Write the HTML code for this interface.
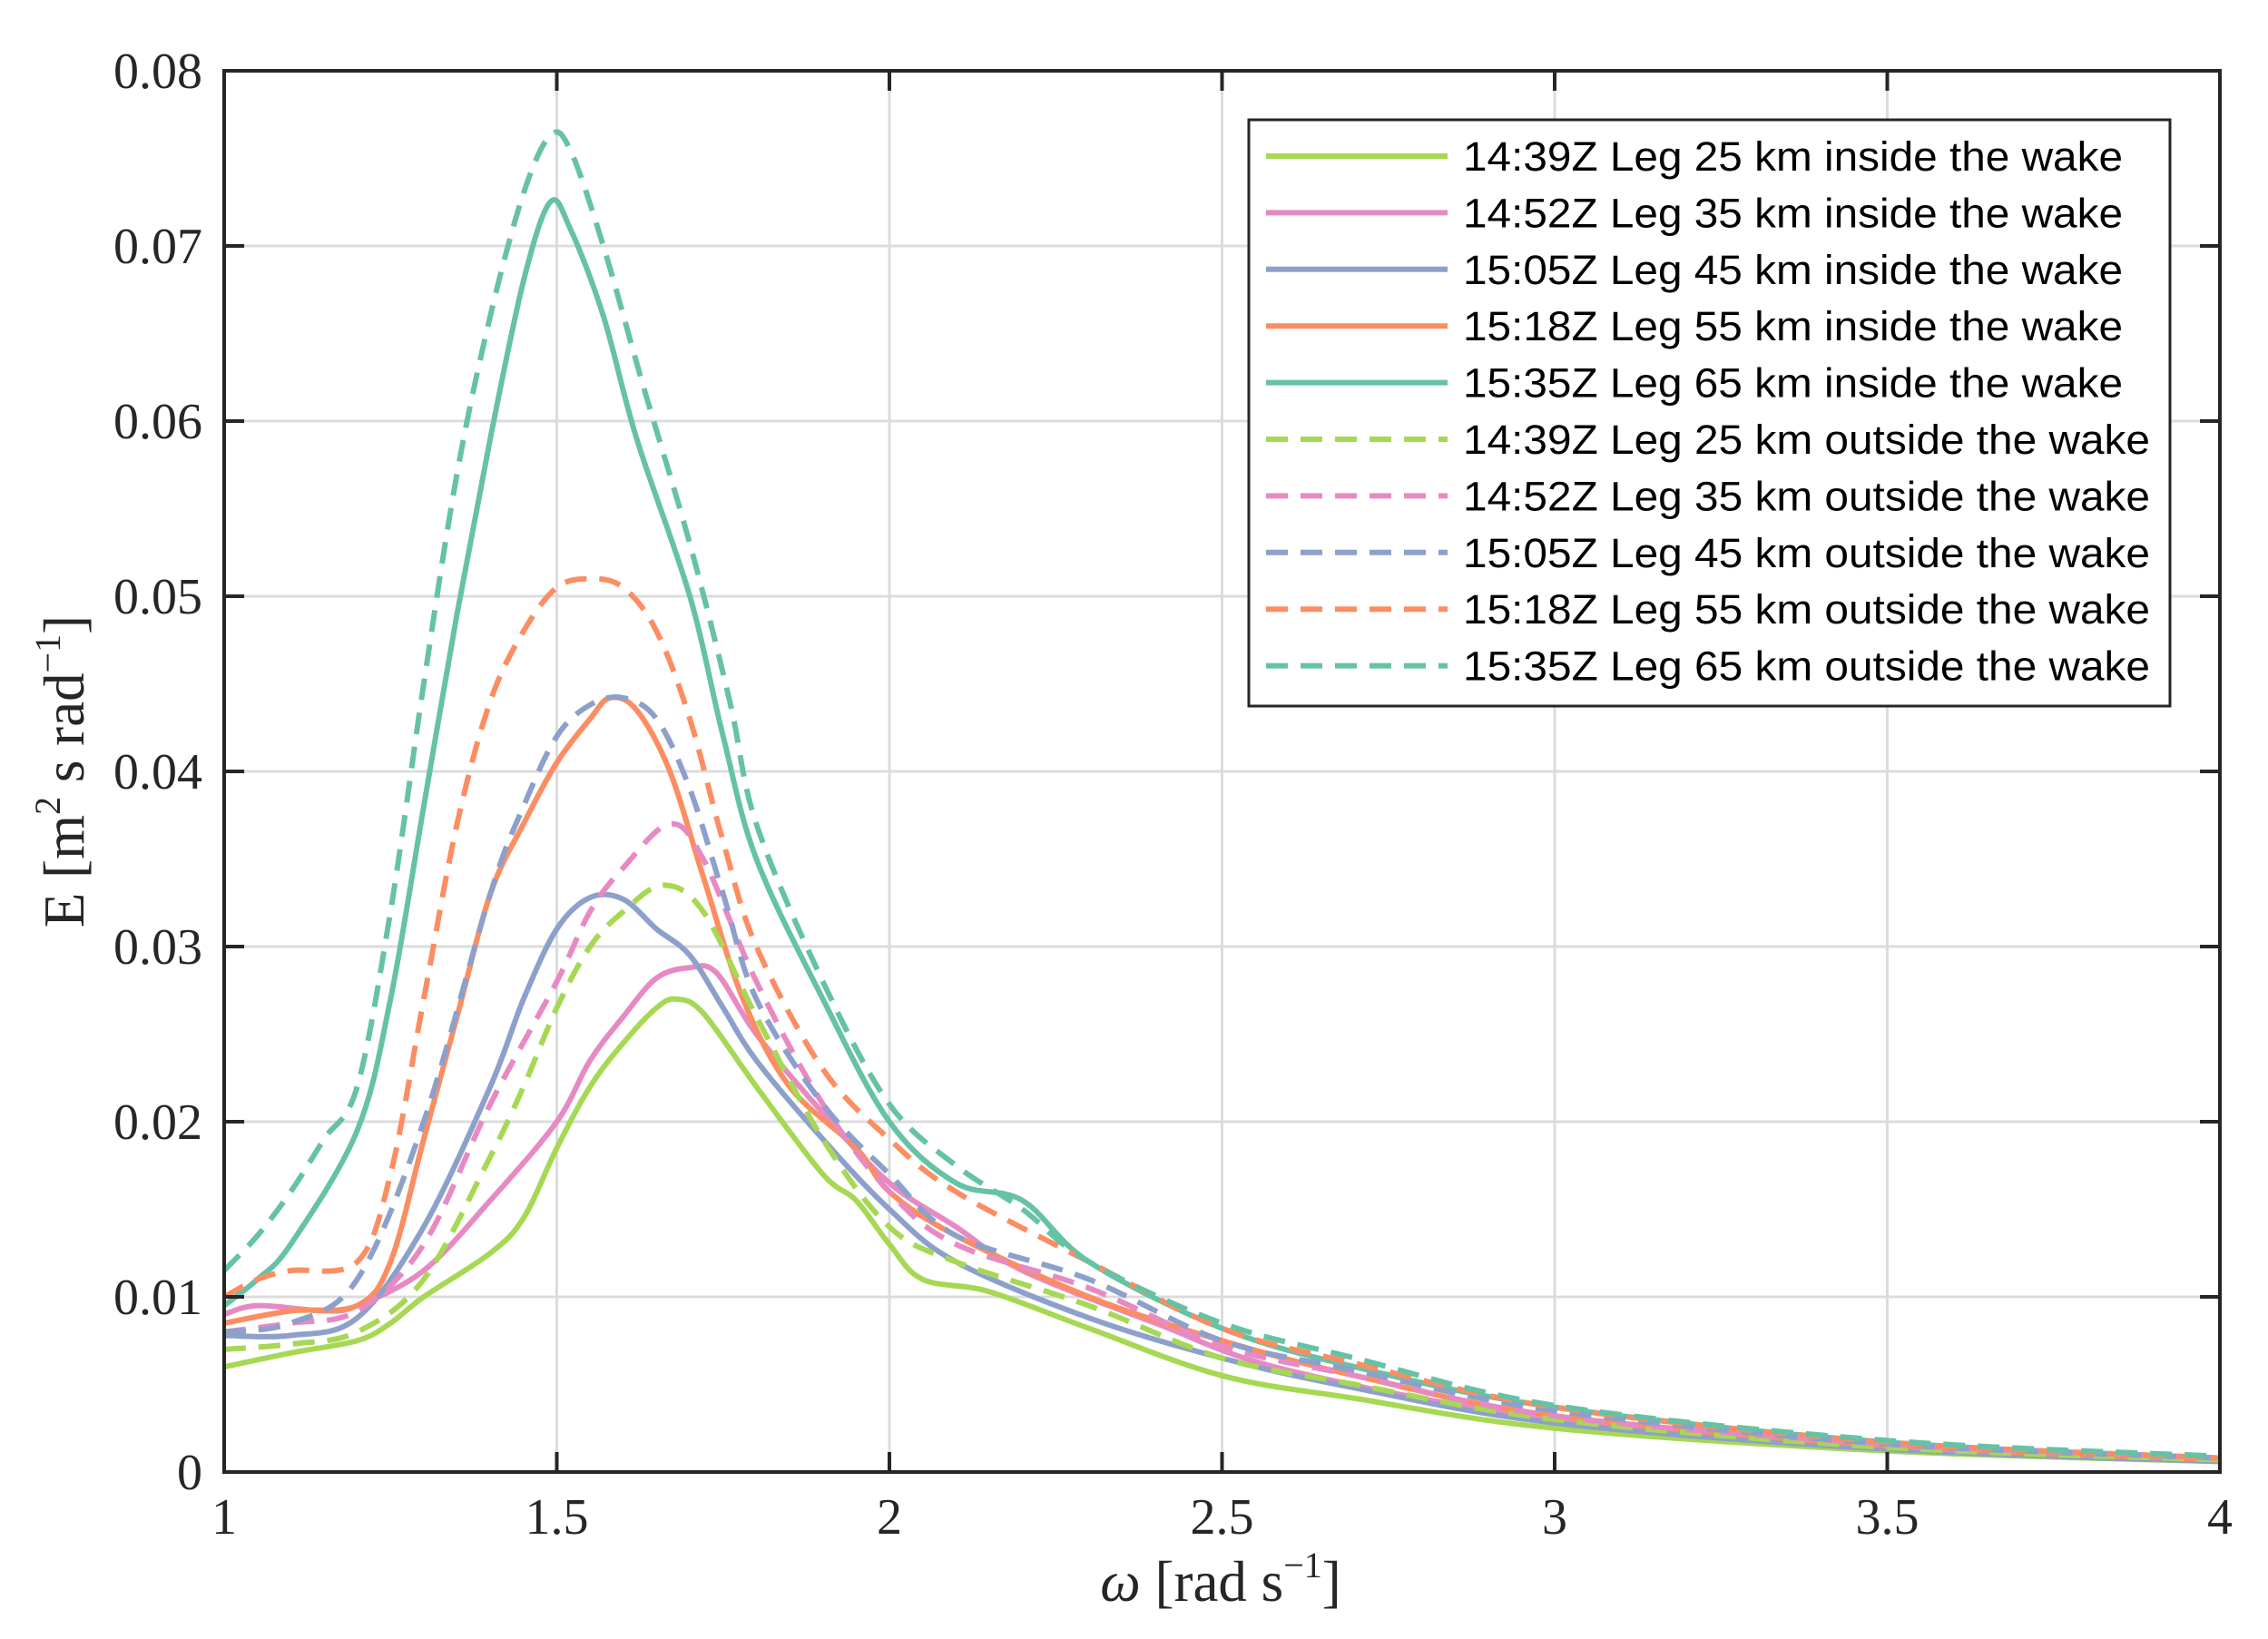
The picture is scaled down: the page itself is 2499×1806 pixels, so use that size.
<!DOCTYPE html>
<html><head><meta charset="utf-8"><style>
html,body{margin:0;padding:0;background:#fff;}
svg{display:block;}
.tk{font-family:"Liberation Serif",serif;font-size:56px;fill:#262626;}
.al{font-family:"Liberation Serif",serif;font-size:63px;fill:#262626;}
.lg{font-family:"Liberation Sans",sans-serif;font-size:45px;fill:#000;}
</style></head><body>
<svg id="s" width="2499" height="1806" xmlns="http://www.w3.org/2000/svg">
<rect width="2499" height="1806" fill="#fff"/>
<g id="grid" stroke="#dcdcdc" stroke-width="3"></g>
<g id="curves" fill="none" stroke-width="6" stroke-linejoin="round" stroke-linecap="butt"></g>
<g id="axes"></g>
<g id="labels"></g>
<text class="al" x="0" y="0" transform="translate(92,850) rotate(-90)" text-anchor="middle">E [m<tspan font-size="40" dy="-26">2</tspan><tspan dy="26"> s rad</tspan><tspan font-size="40" dy="-26">−1</tspan><tspan dy="26">]</tspan></text>
<text class="al" x="1345" y="1764" text-anchor="middle"><tspan font-style="italic">ω</tspan> [rad s<tspan font-size="40" dy="-26">−1</tspan><tspan dy="26">]</tspan></text>
<g id="legend"></g>
</svg>
<script>
var L=247,R=2446,T=78,B=1622;
function X(w){return L+(w-1)/3*(R-L);}
function Y(e){return B-e/0.08*(B-T);}
var NS="http://www.w3.org/2000/svg";
function el(p,n,a,t){var e=document.createElementNS(NS,n);for(var k in a)e.setAttribute(k,a[k]);if(t!=null)e.textContent=t;document.getElementById(p).appendChild(e);return e;}
for(var i=1;i<6;i++){var x=X(1+i*0.5);el("grid","line",{x1:x,x2:x,y1:T,y2:B});}
for(var i=1;i<8;i++){var y=Y(i*0.01);el("grid","line",{x1:L,x2:R,y1:y,y2:y});}
var C={g:"#a6d854",p:"#e78ac3",b:"#8da0cb",o:"#fc8d62",t:"#66c2a5"};
var D=[
["g",0,"14:39Z Leg 25 km inside the wake",[[1,0.006],[1.1,0.0068],[1.2,0.0075],[1.25,0.0085],[1.3,0.0100],[1.4,0.0125],[1.45,0.0145],[1.5,0.0185],[1.55,0.022],[1.6,0.0245],[1.65,0.0265],[1.68,0.027],[1.72,0.0262],[1.8,0.022],[1.9,0.017],[1.95,0.0155],[2.0,0.013],[2.05,0.011],[2.15,0.0103],[2.3,0.0082],[2.5,0.0055],[2.7,0.0042],[3.0,0.0025],[3.5,0.0012],[4,0.0006]]],
["p",0,"14:52Z Leg 35 km inside the wake",[[1,0.009],[1.05,0.0095],[1.15,0.0092],[1.2,0.0095],[1.3,0.0115],[1.4,0.0155],[1.5,0.02],[1.55,0.0235],[1.6,0.026],[1.65,0.0282],[1.7,0.0288],[1.74,0.0285],[1.8,0.025],[1.9,0.0205],[2.0,0.0165],[2.1,0.014],[2.2,0.0115],[2.4,0.0085],[2.6,0.0058],[3.0,0.003],[3.5,0.0015],[4,0.0007]]],
["b",0,"15:05Z Leg 45 km inside the wake",[[1,0.0078],[1.1,0.0078],[1.2,0.0088],[1.3,0.014],[1.4,0.022],[1.45,0.027],[1.5,0.031],[1.55,0.0328],[1.6,0.0327],[1.65,0.031],[1.7,0.0295],[1.75,0.0265],[1.8,0.0235],[1.9,0.019],[2.0,0.015],[2.1,0.012],[2.3,0.0088],[2.5,0.0065],[2.7,0.0048],[3.0,0.0028],[3.5,0.0013],[4,0.0006]]],
["o",0,"15:18Z Leg 55 km inside the wake",[[1,0.0085],[1.1,0.0092],[1.2,0.0095],[1.25,0.012],[1.3,0.019],[1.35,0.026],[1.4,0.033],[1.45,0.037],[1.5,0.0405],[1.55,0.043],[1.58,0.0442],[1.62,0.0435],[1.67,0.04],[1.72,0.034],[1.78,0.027],[1.85,0.022],[1.95,0.0185],[2.0,0.016],[2.1,0.0135],[2.3,0.01],[2.5,0.0075],[2.7,0.0055],[3.0,0.0032],[3.5,0.0015],[4,0.0007]]],
["t",0,"15:35Z Leg 65 km inside the wake",[[1,0.0095],[1.05,0.011],[1.1,0.013],[1.2,0.0195],[1.25,0.027],[1.3,0.038],[1.35,0.049],[1.4,0.059],[1.45,0.068],[1.49,0.0725],[1.52,0.071],[1.57,0.066],[1.62,0.059],[1.7,0.05],[1.75,0.042],[1.8,0.035],[1.9,0.027],[2.0,0.020],[2.1,0.0165],[2.2,0.0155],[2.3,0.012],[2.5,0.0082],[2.7,0.006],[3.0,0.0037],[3.5,0.0017],[4,0.0008]]],
["g",1,"14:39Z Leg 25 km outside the wake",[[1,0.007],[1.1,0.0073],[1.2,0.008],[1.3,0.011],[1.4,0.018],[1.45,0.022],[1.5,0.0265],[1.55,0.03],[1.6,0.032],[1.66,0.0335],[1.72,0.032],[1.8,0.026],[1.9,0.019],[2.0,0.014],[2.1,0.012],[2.3,0.0095],[2.5,0.0065],[2.7,0.005],[3.0,0.003],[3.5,0.0014],[4,0.0007]]],
["p",1,"14:52Z Leg 35 km outside the wake",[[1,0.008],[1.1,0.0085],[1.2,0.0092],[1.3,0.013],[1.4,0.021],[1.5,0.028],[1.55,0.032],[1.6,0.0345],[1.67,0.037],[1.72,0.035],[1.8,0.028],[1.9,0.021],[2.0,0.016],[2.1,0.013],[2.3,0.0105],[2.5,0.0072],[2.7,0.0055],[3.0,0.0032],[3.5,0.0016],[4,0.0008]]],
["b",1,"15:05Z Leg 45 km outside the wake",[[1,0.008],[1.1,0.0085],[1.2,0.011],[1.3,0.02],[1.4,0.033],[1.45,0.038],[1.5,0.042],[1.55,0.0438],[1.6,0.0442],[1.65,0.043],[1.7,0.039],[1.75,0.033],[1.8,0.027],[1.9,0.021],[2.0,0.017],[2.1,0.0135],[2.3,0.011],[2.5,0.0075],[2.7,0.0058],[3.0,0.0035],[3.5,0.0016],[4,0.0008]]],
["o",1,"15:18Z Leg 55 km outside the wake",[[1,0.01],[1.05,0.011],[1.1,0.0115],[1.2,0.012],[1.25,0.017],[1.3,0.027],[1.35,0.037],[1.4,0.044],[1.45,0.048],[1.5,0.0505],[1.55,0.051],[1.6,0.0505],[1.65,0.048],[1.7,0.043],[1.75,0.036],[1.8,0.03],[1.9,0.023],[2.0,0.019],[2.1,0.016],[2.3,0.012],[2.5,0.0082],[2.7,0.0062],[3.0,0.0037],[3.5,0.0017],[4,0.0008]]],
["t",1,"15:35Z Leg 65 km outside the wake",[[1,0.0115],[1.05,0.0135],[1.1,0.016],[1.15,0.019],[1.2,0.022],[1.25,0.032],[1.3,0.045],[1.35,0.057],[1.4,0.066],[1.45,0.073],[1.49,0.0763],[1.52,0.0755],[1.57,0.07],[1.63,0.062],[1.7,0.053],[1.76,0.044],[1.8,0.037],[1.9,0.028],[2.0,0.021],[2.1,0.0175],[2.2,0.015],[2.3,0.012],[2.5,0.0085],[2.7,0.0065],[3.0,0.0038],[3.5,0.0018],[4,0.0009]]]
];
function path(pts){var P=pts.map(function(p){return [X(p[0]),Y(p[1])];});var d="M"+P[0][0]+","+P[0][1];
for(var i=0;i<P.length-1;i++){var p0=P[Math.max(i-1,0)],p1=P[i],p2=P[i+1],p3=P[Math.min(i+2,P.length-1)];
var c1=[p1[0]+(p2[0]-p0[0])/6,p1[1]+(p2[1]-p0[1])/6],c2=[p2[0]-(p3[0]-p1[0])/6,p2[1]-(p3[1]-p1[1])/6];
d+=" C"+c1[0].toFixed(1)+","+c1[1].toFixed(1)+" "+c2[0].toFixed(1)+","+c2[1].toFixed(1)+" "+p2[0].toFixed(1)+","+p2[1].toFixed(1);}return d;}
D.forEach(function(s){var a={d:path(s[3]),stroke:C[s[0]]};if(s[1])a["stroke-dasharray"]="24 14";el("curves","path",a);});
el("axes","rect",{x:L,y:T,width:R-L,height:B-T,fill:"none",stroke:"#262626","stroke-width":4});
for(var i=0;i<=6;i++){var x=X(1+i*0.5);el("axes","line",{x1:x,x2:x,y1:B,y2:B-22,stroke:"#262626","stroke-width":4});el("axes","line",{x1:x,x2:x,y1:T,y2:T+22,stroke:"#262626","stroke-width":4});
el("labels","text",{"class":"tk",x:x,y:1690,"text-anchor":"middle"},["1","1.5","2","2.5","3","3.5","4"][i]);}
for(var i=0;i<=8;i++){var y=Y(i*0.01);el("axes","line",{x1:L,x2:L+22,y1:y,y2:y,stroke:"#262626","stroke-width":4});el("axes","line",{x1:R,x2:R-22,y1:y,y2:y,stroke:"#262626","stroke-width":4});
el("labels","text",{"class":"tk",x:223,y:y+19,"text-anchor":"end"},i==0?"0":"0.0"+i);}
el("legend","rect",{x:1376,y:132,width:1015,height:646,fill:"#fff",stroke:"#262626","stroke-width":3});
D.forEach(function(s,i){var y=172+i*62.4;var a={x1:1395,x2:1595,y1:y,y2:y,stroke:C[s[0]],"stroke-width":6};if(s[1])a["stroke-dasharray"]="24 14";el("legend","line",a);
el("legend","text",{"class":"lg",x:1612,y:y+16,textLength:(s[1]?757:727),lengthAdjust:"spacingAndGlyphs"},s[2]);});
</script>
</body></html>
